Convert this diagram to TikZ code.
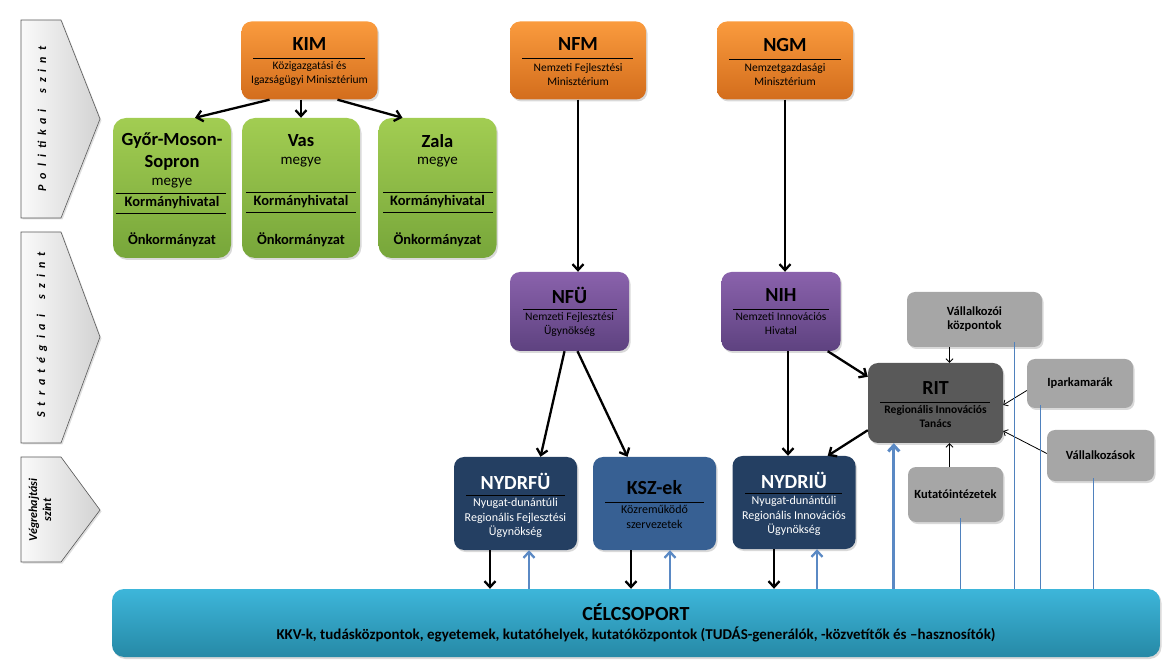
\documentclass[tikz,border=0pt]{standalone}
\usepackage{fontspec}
\setmainfont{Carlito}
\newfontfamily\levelfont[LetterSpace=50]{Carlito}
\usetikzlibrary{arrows.meta,calc,shadows}

\definecolor{orgtop}{HTML}{FA9B3E}
\definecolor{orgbot}{HTML}{D36D1C}
\definecolor{grntop}{HTML}{A2CD52}
\definecolor{grnbot}{HTML}{77A63A}
\definecolor{purtop}{HTML}{8A62AC}
\definecolor{purbot}{HTML}{5E4280}
\definecolor{navy}{HTML}{243F62}
\definecolor{midblue}{HTML}{376093}
\definecolor{ritgray}{HTML}{595959}
\definecolor{boxgray}{HTML}{A6A6A6}
\definecolor{cyantop}{HTML}{3DB6DA}
\definecolor{cyanbot}{HTML}{2689A6}
\definecolor{linkblue}{HTML}{4F81BD}
\definecolor{arrblue}{HTML}{5A89C4}

\tikzset{
  levelarrow/.style={draw=gray!70!black,line width=0.6pt,left color=gray!4,right color=gray!35,
    drop shadow={shadow xshift=1.5pt,shadow yshift=-1.5pt,opacity=.25}},
  leveltext/.style={font=\levelfont\bfseries\itshape\fontsize{12}{14}\selectfont},
  roundbox/.style={rounded corners=10pt,inner sep=0pt,
    drop shadow={shadow xshift=1.5pt,shadow yshift=-2pt,opacity=.3}},
  ministry/.style={roundbox,top color=orgtop,bottom color=orgbot,minimum width=136pt,minimum height=78pt},
  county/.style={roundbox,rounded corners=13pt,top color=grntop,bottom color=grnbot,minimum width=118pt,minimum height=140pt},
  agency/.style={roundbox,top color=purtop,bottom color=purbot,minimum width=119pt,minimum height=79pt},
  office/.style={roundbox,fill=navy,minimum width=123pt,minimum height=93pt},
  helper/.style={roundbox,rounded corners=8pt,fill=boxgray,align=center,
    font=\fontsize{12.5}{14}\selectfont\bfseries},
  sepline/.style={line width=0.7pt},
  mtitle/.style={font=\fontsize{20}{22}\selectfont\bfseries},
  msub/.style={font=\fontsize{11.5}{14}\selectfont,align=center},
  gtitle/.style={font=\fontsize{18.5}{22}\selectfont\bfseries,align=center},
  gmid/.style={font=\fontsize{15}{17}\selectfont},
  gbold/.style={font=\fontsize{14.5}{17}\selectfont\bfseries},
  osub/.style={font=\fontsize{12}{14.5}\selectfont,align=center},
  bigarrow/.style={-{Straight Barb[length=6pt,width=11pt]},line width=2.3pt},
  smallarrow/.style={-{Straight Barb[length=3.5pt,width=7pt]},line width=0.8pt},
  uparrow/.style={-{Straight Barb[length=6pt,width=11pt]},line width=2.3pt,arrblue},
  link/.style={linkblue,line width=0.9pt}
}

\begin{document}
\begin{tikzpicture}[x=1pt,y=-1pt]
\useasboundingbox (0,0) rectangle (1171,668);

\draw[levelarrow] (21,20) -- (61,20) -- (100,119) -- (61,218) -- (21,218) -- cycle;
\draw[levelarrow] (21,232) -- (61,232) -- (100,337) -- (61,443) -- (21,443) -- cycle;
\draw[levelarrow] (21,457) -- (61,457) -- (100,510) -- (61,562) -- (21,562) -- cycle;
\node[leveltext,rotate=90] (pol) at (42,119) {Politikai\hspace{1.3em}szint};
\node[leveltext,rotate=90] (str) at (42,335) {Stratégiai\hspace{1.3em}szint};
\node[font=\bfseries\itshape\fontsize{12}{14}\selectfont,align=center,rotate=90] (veg) at (40,510) {Végrehajtási\\szint};

\node[roundbox,rounded corners=12pt,top color=cyantop,bottom color=cyanbot,minimum width=1048pt,minimum height=68pt] (celc) at (636,623) {};
\node[font=\fontsize{20}{22}\selectfont\bfseries] (celct) at (636,612) {CÉLCSOPORT};
\node[font=\fontsize{15}{17}\selectfont\bfseries] (celcs) at (636,634) {KKV-k, tudásközpontok, egyetemek, kutatóhelyek, kutatóközpontok (TUDÁS-generálók, -közvetítők és –hasznosítók)};

\node[ministry] (kim) at (309.5,60.5) {};
\node[mtitle] (kimt) at (309.5,44) {KIM};
\draw[sepline] (253,58) -- (365,58);
\node[msub] (kims) at (309.5,74) {Közigazgatási és\\Igazságügyi Minisztérium};

\node[ministry] (nfm) at (578,60.5) {};
\node[mtitle] (nfmt) at (578,44) {NFM};
\draw[sepline] (522,58) -- (633,58);
\node[msub] (nfms) at (578,74.5) {Nemzeti Fejlesztési\\Minisztérium};

\node[ministry] (ngm) at (785,60.5) {};
\node[mtitle] (ngmt) at (785,45) {NGM};
\draw[sepline] (729,59) -- (841,59);
\node[msub] (ngms) at (785,75) {Nemzetgazdasági\\Minisztérium};

\node[county] (gyor) at (172,188) {};
\node[gtitle] (gyort) at (172,152) {Győr-Moson-\\Sopron};
\node[gmid] (gyorm) at (172,183) {megye};
\draw[sepline] (116,193) -- (226,193);
\node[gbold] (gyork) at (172,203) {Kormányhivatal};
\draw[sepline] (116,213) -- (226,213);
\node[gbold] (gyoro) at (172,240) {Önkormányzat};

\node[county] (vas) at (301,188) {};
\node[gtitle] (vast) at (301,141) {Vas};
\node[gmid] (vasm) at (301,162) {megye};
\draw[sepline] (246,192) -- (356,192);
\node[gbold] (vask) at (301,202) {Kormányhivatal};
\draw[sepline] (246,212) -- (356,212);
\node[gbold] (vaso) at (301,240) {Önkormányzat};

\node[county] (zala) at (437.5,188) {};
\node[gtitle] (zalat) at (437.5,141) {Zala};
\node[gmid] (zalam) at (437.5,162) {megye};
\draw[sepline] (383,192) -- (493,192);
\node[gbold] (zalak) at (437.5,202) {Kormányhivatal};
\draw[sepline] (383,212) -- (493,212);
\node[gbold] (zalao) at (437.5,240) {Önkormányzat};

\node[agency] (nfu) at (569.5,311.5) {};
\node[mtitle] (nfut) at (569.5,295) {NFÜ};
\draw[sepline] (523,309) -- (617,309);
\node[msub] (nfus) at (569.5,324) {Nemzeti Fejlesztési\\Ügynökség};

\node[agency] (nih) at (781,311.5) {};
\node[mtitle] (niht) at (781,295) {NIH};
\draw[sepline] (733,309) -- (829,309);
\node[msub] (nihs) at (781,324) {Nemzeti Innovációs\\Hivatal};

\node[office] (nydrfu) at (515.5,503.5) {};
\node[mtitle,white] (nydrfut) at (515.5,481) {NYDRFÜ};
\draw[sepline] (466,495) -- (565,495);
\node[osub,white] (nydrfus) at (515.5,518) {Nyugat-dunántúli\\Regionális Fejlesztési\\Ügynökség};

\node[office,fill=midblue] (ksz) at (654.5,503.5) {};
\node[mtitle] (kszt) at (654.5,488) {KSZ-ek};
\draw[sepline] (605,502) -- (704,502);
\node[osub] (kszs) at (654.5,517) {Közreműködő\\szervezetek};

\node[office] (nydriu) at (794,502.5) {};
\node[mtitle,white] (nydriut) at (794,480) {NYDRIÜ};
\draw[sepline] (745,493) -- (842,493);
\node[osub,white] (nydrius) at (794,516) {Nyugat-dunántúli\\Regionális Innovációs\\Ügynökség};

\node[roundbox,fill=ritgray,minimum width=135pt,minimum height=80pt] (rit) at (935.5,403) {};
\node[mtitle] (ritt) at (935.5,388) {RIT};
\draw[sepline] (880,402) -- (990,402);
\node[font=\fontsize{11.5}{14}\selectfont\bfseries,align=center] (rits) at (935.5,417) {Regionális Innovációs\\Tanács};

\node[helper,minimum width=135pt,minimum height=55pt] (valk) at (974.5,319.5) {Vállalkozói\\központok};
\node[helper,minimum width=106pt,minimum height=49pt] (ipar) at (1080,383.5) {Iparkamarák};
\node[helper,minimum width=107pt,minimum height=51pt] (vallal) at (1100.5,455.5) {Vállalkozások};
\node[helper,minimum width=95pt,minimum height=55pt] (kutat) at (955.5,494.5) {Kutatóintézetek};

\draw[bigarrow] ($(kim.south)+(-40,0)$) -- ($(gyor.north)+(23,0)$);
\draw[bigarrow] (kim.south -| vas.north) -- (vas.north);
\draw[bigarrow] ($(kim.south)+(28,0)$) -- ($(zala.north)+(-35,0)$);
\draw[bigarrow] (nfm.south) -- (nfm.south |- nfu.north);
\draw[bigarrow] (ngm.south) -- (ngm.south |- nih.north);
\draw[bigarrow] ($(nfu.south)+(-5,0)$) -- ($(nydrfu.north)+(25,0)$);
\draw[bigarrow] ($(nfu.south)+(8,0)$) -- ($(ksz.north)+(-27,0)$);
\draw[bigarrow] ($(nih.south)+(7,0)$) -- ($(nydriu.north)+(-6,0)$);
\draw[bigarrow] ($(nih.south east)+(-13,0)$) -- ($(rit.north west)+(0,14)$);
\draw[bigarrow] ($(rit.south west)+(0,-13)$) -- ($(nydriu.north east)+(-28,0)$);

\draw[smallarrow] ($(valk.south)+(-25,0)$) -- ($(rit.north)+(14,0)$);
\draw[smallarrow] ($(ipar.west)+(0,7)$) -- ($(rit.east)+(0,2)$);
\draw[smallarrow] ($(vallal.west)+(0,-2)$) -- ($(rit.east)+(0,28)$);
\draw[smallarrow] ($(kutat.north)+(-6,0)$) -- ($(rit.south)+(14,0)$);

\coordinate (l1) at ($(valk.south)+(39.5,-5)$);
\coordinate (l2) at ($(ipar.south)+(-40,-3)$);
\coordinate (l3) at ($(vallal.south)+(-7.5,-3)$);
\coordinate (l4) at ($(kutat.south)+(4.5,-4)$);
\foreach \p in {l1,l2,l3,l4}
  \draw[link] (\p) -- (\p |- celc.north);

\foreach \b/\dx/\ux in {nydrfu/-25.5/13.5, ksz/-23.5/15.5, nydriu/-20/23} {
  \coordinate (dn) at ($(\b.south)+(\dx,0)$);
  \coordinate (up) at ($(\b.south)+(\ux,0)$);
  \draw[bigarrow] (dn) -- (dn |- celc.north);
  \draw[uparrow] (up |- celc.north) -- (up);
}
\coordinate (r1) at ($(rit.south west)+(26,0)$);
\draw[uparrow,line width=3pt] (r1 |- celc.north) -- (r1);
\end{tikzpicture}
\end{document}
